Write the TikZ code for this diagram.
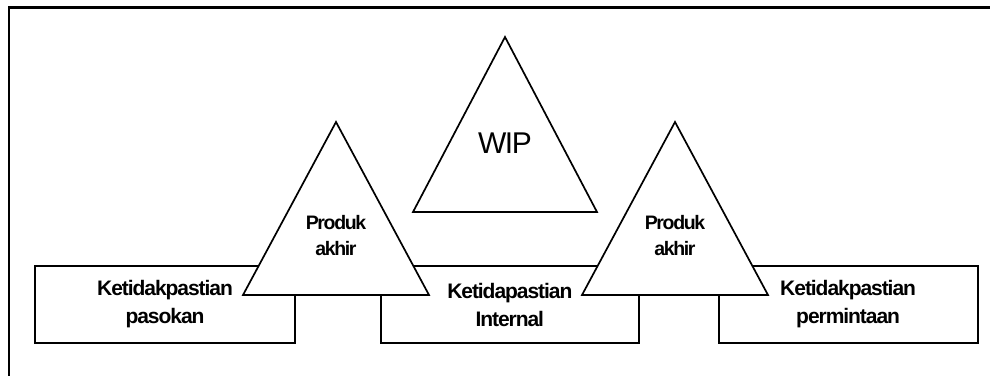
\documentclass[tikz,border=0pt]{standalone}
\usepackage{fontspec}
\setmainfont{Liberation Sans}
\newfontfamily\tightfont[LetterSpace=-5]{Liberation Sans}
\newfontfamily\tighterfont[LetterSpace=-7]{Liberation Sans}
\usetikzlibrary{positioning}
\definecolor{ink}{HTML}{000000}
\tikzset{
  frame/.style={draw=ink,line width=2.4pt},
  base/.style={draw=ink,line width=1.8pt,fill=white},
  box/.style={base,minimum width=259pt,minimum height=77pt,inner sep=0pt,align=center,
              font=\tightfont\bfseries\fontsize{21}{28}\selectfont},
  tri/.style={base,line width=1.7pt,line join=miter},
  trilabel/.style={align=center,inner sep=0pt,font=\tighterfont\bfseries\fontsize{19.5}{26}\selectfont},
  wiplabel/.style={inner sep=0pt,font=\tightfont\fontsize{30}{32}\selectfont}
}

\begin{document}
\begin{tikzpicture}[x=1pt,y=-1pt]
  \useasboundingbox (0,0) rectangle (995,375);
  \draw[frame] (9,376) -- (9,7.5) -- (990,7.5);
  % uncertainty boxes
  \node[box,minimum width=260pt] (pasokan) at (165,304.5) {Ketidakpastian\\pasokan};
  \node[box,minimum width=258pt,right=84pt of pasokan] (internal) {Ketidapastian\\Internal};
  \node[box,right=78pt of internal] (permintaan) {Ketidakpastian\\permintaan};
  % stock triangles
  \foreach \x in {336,675}{\draw[tri] ({\x-93},295) -- (\x,122) -- ({\x+93},295) -- cycle;}
  \draw[tri] (413,212) -- (505,37) -- (597,212) -- cycle;
  \node[trilabel] (akhirL) at (336,236) {Produk\\akhir};
  \node[trilabel] (akhirR) at (675,236) {Produk\\akhir};
  \node[wiplabel] (wip) at (505,143) {WIP};
\end{tikzpicture}
\end{document}
